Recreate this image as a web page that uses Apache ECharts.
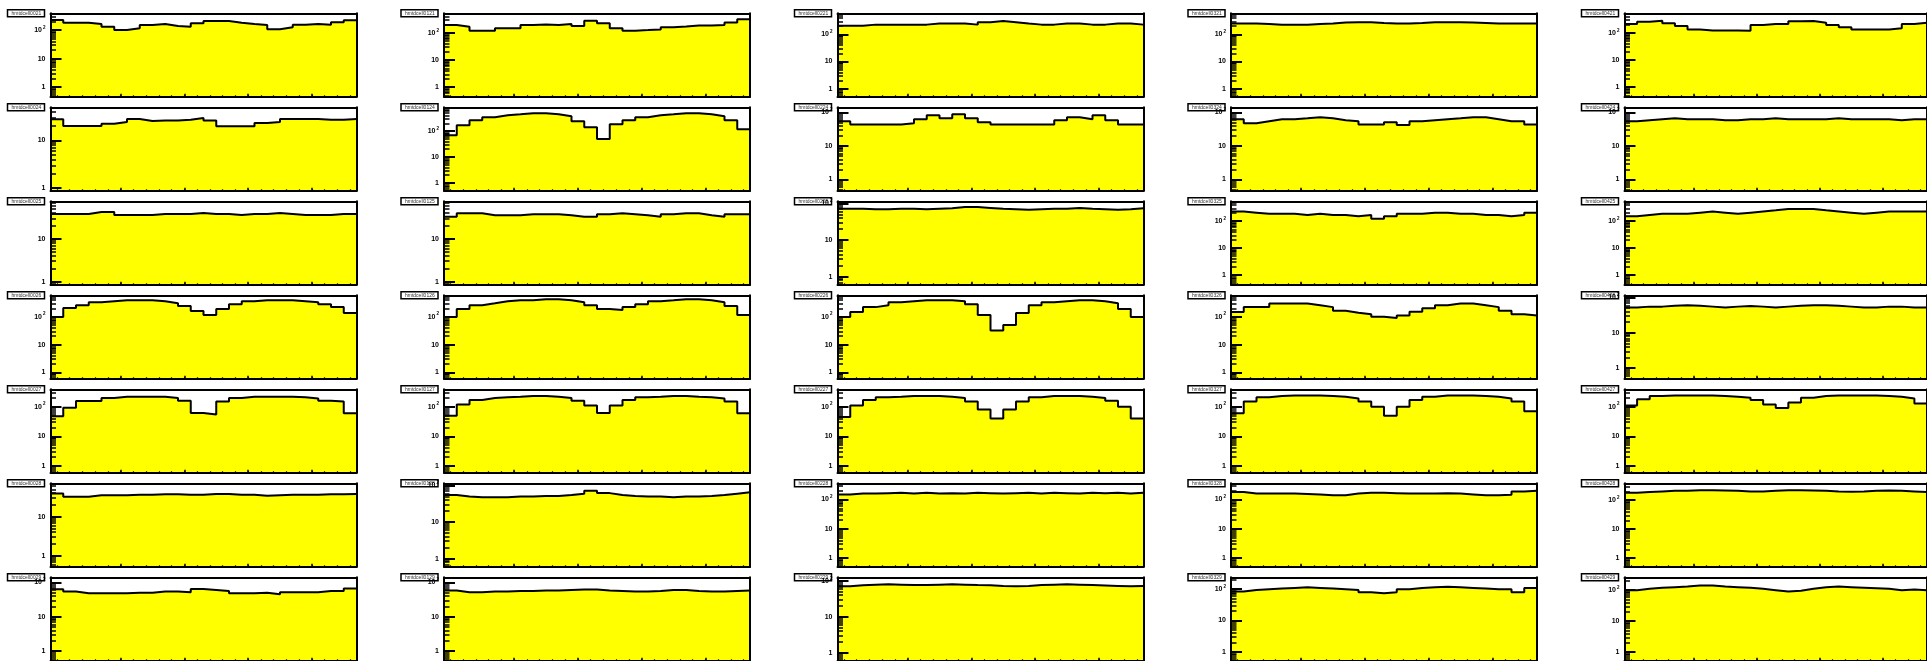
<!DOCTYPE html>
<html><head><meta charset="utf-8">
<script src="https://cdn.jsdelivr.net/npm/echarts@6/dist/echarts.min.js"></script>
<style>html,body{margin:0;padding:0;background:#fff}#c{width:1927px;height:661px}</style>
</head><body><div id="c"></div>
<script>
// ---- data ----
const binCenters = [0,1,2,3,4,5,6,7,8,9,10,11,12,13,14,15,16,17,18,19,20,21,22,23];
const colIds = ['00','01','02','03','04'];
const rowIds = ['21','24','25','26','27','28','29'];

const hmtdcell0021 = [224,180,180,162,131,100,115,150,162,138,131,172,207,207,180,162,150,106,124,153,162,153,186,219];
const hmtdcell0121 = [198,171,122,122,150,150,198,210,198,216,182,286,229,150,122,129,137,163,177,193,193,198,249,322];
const hmtdcell0221 = [205,205,226,226,226,226,226,250,250,250,226,279,309,279,250,226,226,250,250,226,226,250,250,226];
const hmtdcell0321 = [250,250,240,226,226,226,240,250,270,279,279,260,250,250,260,279,279,279,270,260,250,250,250,250];
const hmtdcell0421 = [216,262,286,229,182,137,126,126,126,122,198,216,216,272,279,241,198,163,137,137,137,150,216,241];

const hmtdcell0024 = [27.4,19.9,19.9,19.9,22.3,24.1,27.8,25.3,26.1,26.1,27,29.2,26.1,19.6,19.6,19.6,23,24.1,27.8,27.8,27.8,27,27,27.8];
const hmtdcell0124 = [70,170,265,345,412,450,492,492,450,377,242,142,50,185,265,345,412,450,492,492,450,377,265,119];
const hmtdcell0224 = [55,44,44,44,44,48,63,83,67,88,67,51,44,44,44,44,44,59,72,63,83,59,44,44];
const hmtdcell0324 = [63,48,55,63,63,67,72,67,59,55,44,44,51,42,55,59,63,67,72,72,63,55,55,44];
const hmtdcell0424 = [55,59,63,67,63,63,63,59,59,63,63,67,63,63,63,63,67,63,63,63,63,59,63,63];

const hmtdcell0025 = [38.4,38.4,38.4,42.7,42.7,36.4,36.4,36.4,38.4,38.4,38.4,40.5,38.4,38.4,36.4,38.4,38.4,40.5,38.4,36.4,36.4,36.4,38.4,38.4];
const hmtdcell0125 = [33,40,40,36,36,36,38,38,38,36,33,33,38,40,38,36,33,38,40,40,36,33,38,38];
const hmtdcell0225 = [72,72,70,70,72,72,70,72,74,80,80,76,72,70,68,70,72,72,76,72,70,68,70,74];
const hmtdcell0325 = [230,208,188,188,188,170,188,170,170,152,170,123,152,188,188,208,208,188,188,170,170,152,170,208];
const hmtdcell0425 = [152,170,188,188,188,208,230,208,188,208,230,255,284,284,284,255,230,208,188,208,230,230,230,230];

const hmtdcell0026 = [98,205,261,334,362,392,392,392,362,307,241,160,116,189,283,362,392,392,392,362,334,283,222,136];
const hmtdcell0126 = [98,189,261,307,362,392,392,426,426,392,334,261,189,174,222,283,362,392,426,426,392,334,241,116];
const hmtdcell0226 = [98,148,222,261,334,362,392,392,392,362,283,116,32,51,136,261,334,362,392,392,362,307,189,98];
const hmtdcell0326 = [149,222,222,301,301,301,260,222,165,140,122,100,90,110,150,201,260,301,301,260,222,165,122,110];
const hmtdcell0426 = [52,55,55,58,60,58,55,52,55,57,55,52,55,58,60,60,58,55,52,52,55,55,52,52];

const hmtdcell0027 = [48,93,158,158,198,218,218,218,218,198,160,62,55,150,198,218,218,218,218,210,190,160,150,60];
const hmtdcell0127 = [50,120,170,198,210,218,230,230,218,198,160,110,62,110,170,210,218,230,230,218,210,190,150,60];
const hmtdcell0227 = [45,110,170,210,218,230,230,230,218,198,150,80,40,80,150,210,230,230,230,218,198,160,100,40];
const hmtdcell0327 = [60,150,210,230,240,240,240,230,218,190,150,100,50,100,170,218,240,240,240,230,218,190,150,70];
const hmtdcell0427 = [110,180,230,240,240,240,240,230,218,200,170,120,90,140,200,230,240,240,240,240,230,218,190,130];

const hmtdcell0028 = [39,32,32,35,35,35,36,36,37,37,36,36,38,38,36,36,34,35,36,36,36,37,37,38];
const hmtdcell0128 = [55,50,48,48,48,50,50,52,52,55,60,72,62,55,52,50,50,48,50,50,52,55,60,65];
const hmtdcell0228 = [150,160,160,165,170,160,170,160,165,160,170,165,160,165,170,160,170,165,160,170,165,170,160,170];
const hmtdcell0328 = [180,160,160,160,160,155,150,140,140,160,170,170,165,160,160,160,165,160,150,140,140,145,190,200];
const hmtdcell0428 = [180,190,200,210,210,220,220,215,210,200,200,210,220,220,215,210,200,195,200,210,215,210,200,190];

const hmtdcell0029 = [63,54,48,48,48,48,50,50,54,54,51.5,64,60,56,48,48,50,45,51.5,51.5,51.5,56,56,67];
const hmtdcell0129 = [58,52,52,54,54,56,56,58,58,60,62,62,58,56,54,54,56,60,60,56,54,54,56,58];
const hmtdcell0229 = [70,75,78,80,78,76,76,78,80,78,76,75,72,70,72,76,78,80,78,76,74,72,70,72];
const hmtdcell0329 = [85,95,100,105,110,115,110,105,100,95,80,75,80,100,110,115,120,115,110,105,100,100,80,110];
const hmtdcell0429 = [100,110,120,125,130,140,140,130,125,120,110,100,90,95,110,125,130,125,120,115,110,100,105,100];

// per-pad log y-axis range
const yMin = [
  [0.46,0.44,0.5,0.5,0.44],
  [0.88,0.49,0.46,0.46,0.46],
  [0.84,0.84,0.6,0.43,0.43],
  [0.59,0.59,0.59,0.59,0.5],
  [0.58,0.58,0.58,0.58,0.58],
  [0.52,0.6,0.5,0.5,0.5],
  [0.52,0.52,0.6,0.52,0.52]
];
const yMax = [
  [385,540,590,590,540],
  [49,840,143,143,143],
  [76,76,115,550,550],
  [590,590,590,590,115],
  [390,390,390,390,390],
  [71,115,360,360,380],
  [141,141,125,240,260]
];
const xMajorTicks = [5,10,15,20];

const padRows = [
  [hmtdcell0021,hmtdcell0121,hmtdcell0221,hmtdcell0321,hmtdcell0421],
  [hmtdcell0024,hmtdcell0124,hmtdcell0224,hmtdcell0324,hmtdcell0424],
  [hmtdcell0025,hmtdcell0125,hmtdcell0225,hmtdcell0325,hmtdcell0425],
  [hmtdcell0026,hmtdcell0126,hmtdcell0226,hmtdcell0326,hmtdcell0426],
  [hmtdcell0027,hmtdcell0127,hmtdcell0227,hmtdcell0327,hmtdcell0427],
  [hmtdcell0028,hmtdcell0128,hmtdcell0228,hmtdcell0328,hmtdcell0428],
  [hmtdcell0029,hmtdcell0129,hmtdcell0229,hmtdcell0329,hmtdcell0429]
];

// ---- layout ----
const X0 = 50.5, PX = 393.5, W = 306, Y0 = 13.3, PY = 94, H = 83.5;
const FONT = 'Liberation Sans';

const grids = [], xAxes = [], yAxes = [], series = [], titles = [];
let g = 0;
for (let r = 0; r < padRows.length; r++) {
  for (let c = 0; c < colIds.length; c++) {
    const left = X0 + c * PX, top = Y0 + r * PY;
    grids.push({left: left, top: top, width: W, height: H, show: true, backgroundColor: '#fff', borderWidth: 0});
    const lo = Math.log10(yMin[r][c]), hi = Math.log10(yMax[r][c]);
    const majors = [];
    for (let p = Math.ceil(lo); p <= Math.floor(hi); p++) majors.push(p);
    const minors = [];
    for (let p = Math.floor(lo); p <= Math.ceil(hi); p++) {
      for (let k = 2; k <= 9; k++) { const v = p + Math.log10(k); if (v > lo && v < hi) minors.push(v); }
    }
    const noSplit = {show: false};
    xAxes.push({gridIndex: g, type: 'value', min: -0.5, max: 23.5, position: 'bottom', z: 10,
      axisLine: {show: true, onZero: false, lineStyle: {color: '#000', width: 2}},
      axisTick: {show: true, inside: true, length: 3, customValues: xMajorTicks, lineStyle: {color: '#000', width: 1.5}},
      axisLabel: {show: false}, splitLine: noSplit});
    xAxes.push({gridIndex: g, type: 'value', min: -0.5, max: 23.5, position: 'bottom', z: 10,
      axisLine: {show: false, onZero: false},
      axisTick: {show: true, inside: true, length: 1.5, customValues: binCenters, lineStyle: {color: '#000', width: 1.2}},
      axisLabel: {show: false}, splitLine: noSplit});
    xAxes.push({gridIndex: g, type: 'value', min: -0.5, max: 23.5, position: 'top', z: 10,
      axisLine: {show: true, onZero: false, lineStyle: {color: '#000', width: 2}},
      axisTick: {show: false}, axisLabel: {show: false}, splitLine: noSplit});
    yAxes.push({gridIndex: g, type: 'value', min: lo, max: hi, position: 'left', z: 10,
      axisLine: {show: true, onZero: false, lineStyle: {color: '#000', width: 2}},
      axisTick: {show: true, inside: true, length: 11, customValues: majors, lineStyle: {color: '#000', width: 2}},
      axisLabel: {show: true, customValues: majors, margin: 5,
        formatter: function (v) { const p = Math.round(v); if (p === 0) return '{b|1}'; if (p === 1) return '{b|10}'; return '{b|10}{s|' + p + '}'; },
        rich: {b: {fontSize: 7, fontWeight: 'bold', fontFamily: FONT, color: '#000'},
               s: {fontSize: 4.5, fontWeight: 'bold', fontFamily: FONT, color: '#000', padding: [0, 0, 5, 1]}}},
      splitLine: noSplit});
    yAxes.push({gridIndex: g, type: 'value', min: lo, max: hi, position: 'left', z: 10,
      axisLine: {show: false, onZero: false},
      axisTick: {show: true, inside: true, length: 5.5, customValues: minors, lineStyle: {color: '#000', width: 1.5}},
      axisLabel: {show: false}, splitLine: noSplit});
    yAxes.push({gridIndex: g, type: 'value', min: lo, max: hi, position: 'right', z: 10,
      axisLine: {show: true, onZero: false, lineStyle: {color: '#000', width: 2}},
      axisTick: {show: false}, axisLabel: {show: false}, splitLine: noSplit});

    const vals = padRows[r][c];
    const pts = binCenters.map(function (x, k) { return [x - 0.5, Math.log10(vals[k])]; });
    pts.push([binCenters[binCenters.length - 1] + 0.5, Math.log10(vals[vals.length - 1])]);
    series.push({type: 'line', xAxisIndex: 3 * g, yAxisIndex: 3 * g, step: 'end', symbol: 'none', silent: true,
      data: pts, z: 2,
      lineStyle: {color: '#000', width: 2},
      areaStyle: {color: '#ffff00', opacity: 1, origin: 'start'}});

    titles.push({text: 'hmtdcell' + colIds[c] + rowIds[r], left: left - 43, top: top - 3.5,
      padding: [1, 4, 1, 4], borderColor: '#000', borderWidth: 1.5, borderRadius: 0, backgroundColor: '#fff',
      textStyle: {fontSize: 5, fontWeight: 'normal', fontFamily: FONT, color: '#333', textBorderWidth: 0, textShadowBlur: 0}});
    g++;
  }
}

const chart = echarts.init(document.getElementById('c'), null, {renderer: 'canvas'});
chart.setOption({
  animation: false,
  backgroundColor: '#fff',
  title: titles,
  grid: grids,
  xAxis: xAxes,
  yAxis: yAxes,
  series: series
});
</script></body></html>
